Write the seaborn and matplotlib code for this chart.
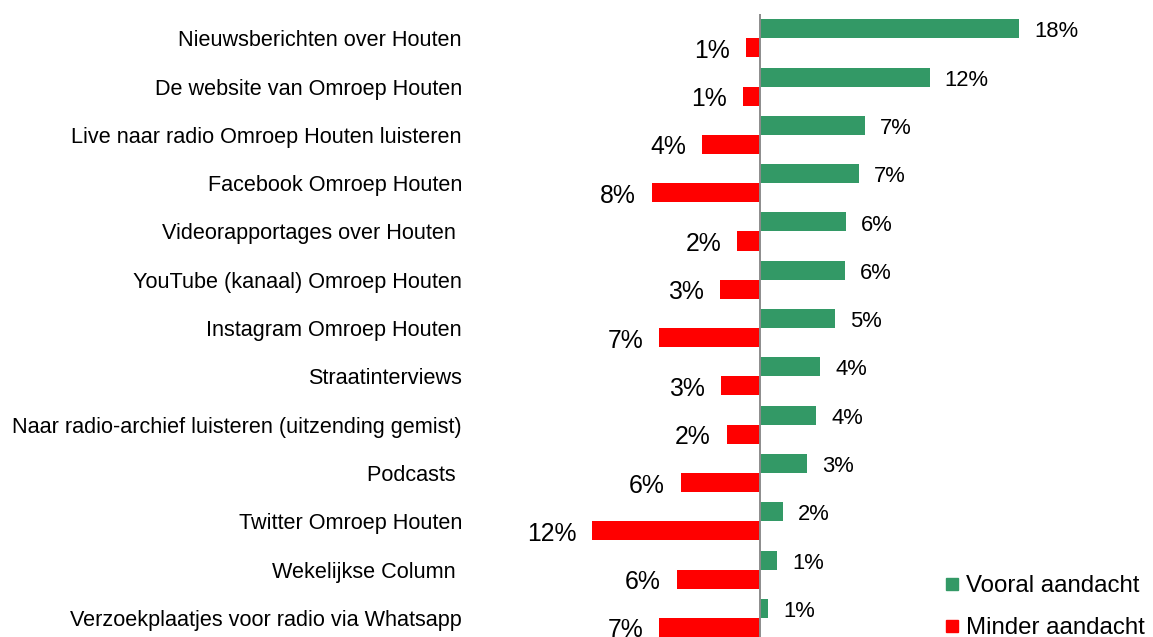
"""
Diverging bar chart: aandacht voor kanalen van Omroep Houten.
"""

import matplotlib

matplotlib.use("Agg")
import matplotlib.pyplot as plt
import pandas as pd
import seaborn as sns
from matplotlib.lines import Line2D

categories = [
    "Nieuwsberichten over Houten",
    "De website van Omroep Houten",
    "Live naar radio Omroep Houten luisteren",
    "Facebook Omroep Houten",
    "Videorapportages over Houten ",
    "YouTube (kanaal) Omroep Houten",
    "Instagram Omroep Houten",
    "Straatinterviews",
    "Naar radio-archief luisteren (uitzending gemist)",
    "Podcasts ",
    "Twitter Omroep Houten",
    "Wekelijkse Column ",
    "Verzoekplaatjes voor radio via Whatsapp",
]
vooral = [18.0, 11.8, 7.3, 6.9, 6.0, 5.9, 5.2, 4.2, 3.9, 3.3, 1.6, 1.2, 0.55]
minder = [0.97, 1.16, 4.0, 7.5, 1.6, 2.8, 7.0, 2.7, 2.3, 5.5, 11.65, 5.8, 7.0]
series = ["Vooral aandacht", "Minder aandacht"]
colors = ["#339966", "#FF0000"]


def main():
    n = len(categories)
    df = pd.DataFrame({
        "categorie": categories * 2,
        "reeks": [series[0]] * n + [series[1]] * n,
        "waarde": vooral + [-v for v in minder],
    })

    sns.set_style("white")
    plt.rcParams["font.family"] = ["Liberation Sans", "DejaVu Sans"]
    plt.rcParams["text.color"] = "black"
    plt.rcParams["ytick.color"] = "black"

    W, H = 1153, 637
    fig = plt.figure(figsize=(W / 100, H / 100), dpi=100)
    left_px = 470
    ax = fig.add_axes([left_px / W, 0, (W - left_px) / W, 1])

    sns.barplot(
        data=df, x="waarde", y="categorie", hue="reeks",
        hue_order=series, palette=colors, orient="h",
        width=0.79, dodge=True, legend=False, ax=ax,
        saturation=1, linewidth=0,
    )

    # pixel scale: 18% -> 259 px, zero line at x=760
    px_per_unit = 259 / 18.0
    xmin = -(760 - left_px) / px_per_unit
    ax.set_xlim(xmin, xmin + (W - left_px) / px_per_unit)
    pitch = 48.3
    ax.set_ylim(12 + (H - 38.3 - 12 * pitch) / pitch, -38.3 / pitch)

    ax.vlines(0, -0.5, 12.6, color="#8c8c8c", lw=1.4, zorder=5)

    green_txt = ax.bar_label(ax.containers[0],
                             labels=[f"{v:.0f}%" for v in vooral],
                             padding=10.8, fontsize=15.8)
    red_txt = ax.bar_label(ax.containers[1],
                           labels=[f"{v:.0f}%" for v in minder],
                           padding=11.5, fontsize=17.8)
    for t in green_txt + red_txt:
        x, y = t.xyann
        t.xyann = (x, y - 2.2)

    ax.set_xlabel("")
    ax.set_ylabel("")
    ax.set_xticks([])
    ax.tick_params(axis="y", length=0, pad=5.8, labelsize=15.6)
    sns.despine(ax=ax, left=True, bottom=True)

    handles = [
        Line2D([], [], marker="s", ls="", color=c, markersize=8.8) for c in colors
    ]
    fig.legend(
        handles, series, loc="upper left",
        bbox_to_anchor=(944 / W, 1 - 575 / H), frameon=False,
        fontsize=17.3, handlelength=0.7, handletextpad=0.2,
        labelspacing=0.83, borderpad=0, borderaxespad=0,
    )

    fig.savefig("out.png", dpi=100)
    plt.close(fig)


if __name__ == "__main__":
    main()
